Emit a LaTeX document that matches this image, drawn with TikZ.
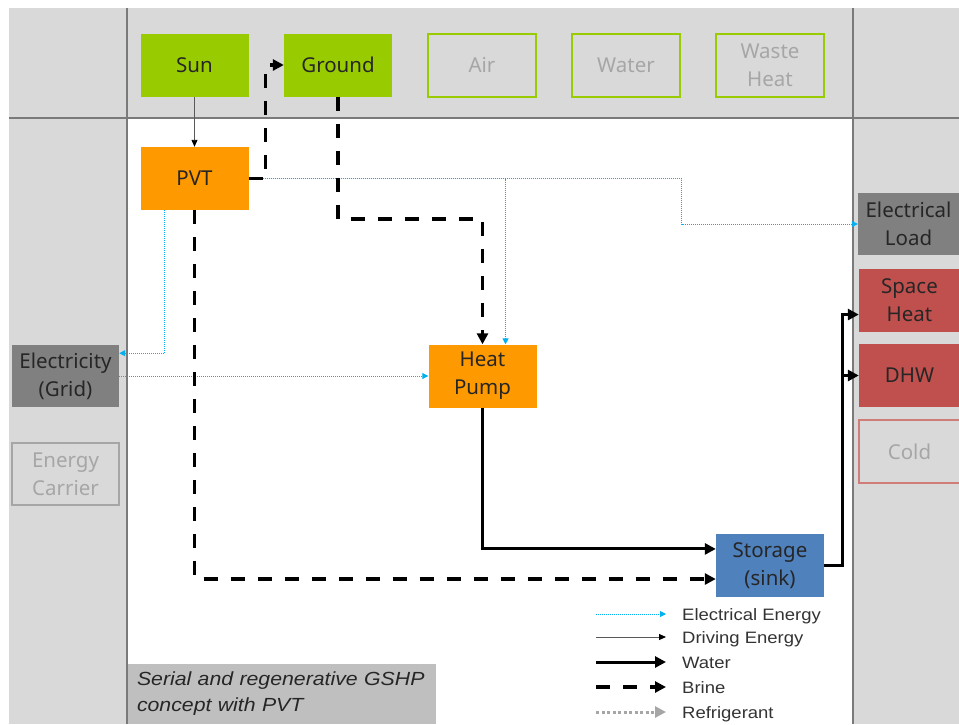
\documentclass[tikz,border=0pt]{standalone}
\usepackage{fontspec}
\setmainfont{Noto Sans}
\newfontfamily\legfont[FakeStretch=1.12]{Liberation Sans}
\usetikzlibrary{arrows.meta}

\definecolor{bandgray}{HTML}{D9D9D9}
\definecolor{framegray}{HTML}{7A7A7A}
\definecolor{srcgreen}{HTML}{99CC00}
\definecolor{convorange}{HTML}{FF9900}
\definecolor{storeblue}{HTML}{4F81BD}
\definecolor{carriergray}{HTML}{808080}
\definecolor{demandred}{HTML}{C0504D}
\definecolor{offtext}{HTML}{A6A6A6}
\definecolor{boxtext}{HTML}{262626}
\definecolor{elblue}{HTML}{00B0F0}
\definecolor{drivegray}{HTML}{595959}
\definecolor{refgray}{HTML}{A6A6A6}
\definecolor{captiongray}{HTML}{BFBFBF}
\definecolor{legtextcol}{HTML}{333333}

\begin{document}
\begin{tikzpicture}[
        yscale=-1,
        x=1pt,
        y=1pt,
        box/.style={minimum width=108pt, minimum height=63pt, inner sep=0pt, align=center,
            font=\fontsize{20.5}{28}\selectfont, text=boxtext},
        src/.style={box, fill=srcgreen},
        srcoff/.style={box, draw=srcgreen, line width=2pt, text=offtext},
        conv/.style={box, fill=convorange},
        store/.style={box, fill=storeblue},
        carrier/.style={box, minimum width=107pt, minimum height=62pt, fill=carriergray},
        carrieroff/.style={carrier, fill=none, draw=offtext, line width=2pt, text=offtext},
        demand/.style={box, minimum width=101pt, fill=demandred},
        demandoff/.style={demand, fill=none, draw=demandred!75, line width=1.5pt, text=offtext},
        elec/.style={draw=elblue, line width=0.9pt, dash pattern=on 1pt off 1pt,
            -{Triangle[length=6pt, width=6pt]}},
        drive/.style={draw=drivegray, line width=0.9pt, -{Triangle[length=7pt, width=6pt, color=black]}},
        water/.style={draw=black, line width=3pt, -{Triangle[length=11pt, width=11pt]}},
        brine/.style={draw=black, line width=3.5pt, dash pattern=on 14pt off 13pt,
            -{Triangle[length=11pt, width=11pt]}},
        refr/.style={draw=refgray, line width=3pt, dash pattern=on 3pt off 2.5pt,
            -{Triangle[length=11pt, width=11pt]}},
        legtext/.style={anchor=west, inner sep=0pt, text height=12pt, text depth=0pt,
            font=\legfont\fontsize{16.5}{20}\selectfont, text=legtextcol},
        frame/.style={draw=framegray, line width=1.2pt}
    ]
    \useasboundingbox (0,0) rectangle (959,724);

    % bands
    \fill[bandgray] (9,8) rectangle (959,724);
    \fill[white] (127,118) rectangle (853,724);
    \draw[frame] (127,8) -- (127,724) (853,8) -- (853,724) (9,118) -- (959,118);

    % sources
    \node[src] (sun) at (194.5,65) {Sun};
    \node[src] (ground) at (338,65) {Ground};
    \node[srcoff] (air) at (482,65) {Air};
    \node[srcoff] (water) at (626,65) {Water};
    \node[srcoff] (waste) at (770,65) {Waste\\Heat};

    % converters
    \node[conv] (pvt) at (194.5,178.5) {PVT};
    \node[conv] (hp) at (482.5,376) {Heat\\Pump};
    \node[store] (storage) at (770,565.5) {Storage\\(sink)};

    % carriers
    \node[carrier] (grid) at (65.5,376) {Electricity\\(Grid)};
    \node[carrieroff] (carrier) at (65.5,474) {Energy\\Carrier};

    % demands
    \node[carrier, minimum width=101pt] (load) at (908.5,224) {Electrical\\Load};
    \node[demand] (sh) at (909.5,300) {Space\\Heat};
    \node[demand] (dhw) at (909.5,375.5) {DHW};
    \node[demandoff] (cold) at (909.5,451.5) {Cold};

    % electrical energy
    \draw[elec] (pvt.east) -- ++(433,0) |- (load.west);
    \draw[elec] (pvt.east) -| (hp.54);
    \draw[elec] (pvt.227) |- (grid.23);
    \draw[elec] (grid.east) -- (hp.west);

    % driving energy
    \draw[drive] (sun.south) -- (pvt.north);

    % brine
    \draw[brine] (pvt.east) -- ++(17,0) |- (ground.west);
    \draw[brine] (ground.south) -- ++(0,122.5) -| (hp.north);
    \draw[brine] (pvt.south) |- (storage.194);

    % water
    \draw[water] (hp.south) |- (storage.163);
    \draw[water] (storage.east) -- ++(18,0) |- (sh.196);
    \draw[water] (storage.east) -- ++(18,0) |- (dhw.west);

    % legend
    \foreach \sty/\txt/\yy in {elec/Electrical Energy/614, drive/Driving Energy/637,
            water/Water/662, brine/Brine/687, refr/Refrigerant/712} {
        \node[legtext] (leg-\sty) at (682,\yy) {\txt};
        \draw[\sty] ([xshift=-86pt]leg-\sty.west) -- ([xshift=-16pt]leg-\sty.west);
    }

    % caption
    \node[fill=captiongray, minimum width=308pt, minimum height=60pt, text width=290pt,
        inner xsep=9pt, align=left, text=boxtext,
        font=\legfont\itshape\fontsize{19}{26}\selectfont] (caption) at (282,694)
        {Serial and regenerative GSHP\\concept with PVT};
\end{tikzpicture}
\end{document}
